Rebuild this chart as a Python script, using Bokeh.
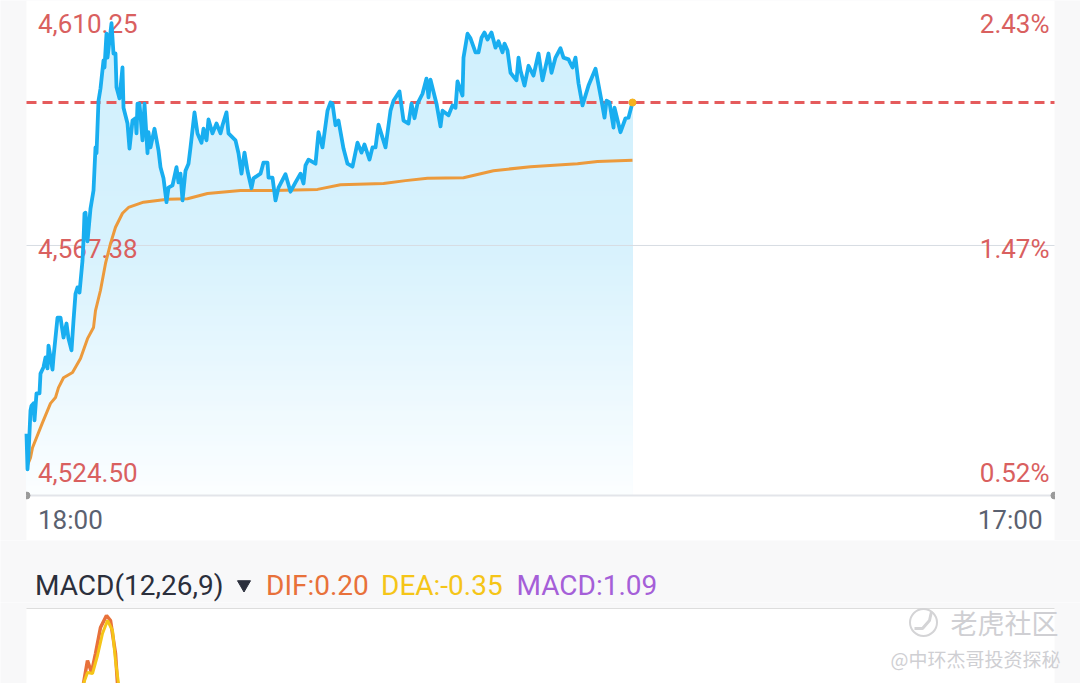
import numpy as np
from bokeh.core.properties import value
from bokeh.embed import file_html
from bokeh.layouts import column
from bokeh.models import Range1d
from bokeh.plotting import figure
from bokeh.resources import INLINE

# ---- data -----------------------------------------------------------------
slots = [0,1,2,4,5,7,8,10,13,14,17,19,21,22,24,26,27,31,34,37,40,42,45,47,49,51,53,56,57,58,59,61,64,67,69,70,72,74,77,78,80,81,85,87,89,90,93,96,97,101,103,106,109,110,111,113,116,118,121,122,124,128,132,134,137,140,142,146,150,152,154,156,159,162,164,168,171,175,177,180,182,186,190,194,196,200,202,209,212,215,218,221,225,227,234,237,241,242,246,249,252,259,264,269,274,277,279,282,289,292,296,301,304,306,309,312,317,321,326,331,335,338,343,346,349,352,359,364,367,373,377,382,385,388,391,396,400,402,404,410,414,416,422,426,429,431,436,437,441,444,449,452,455,458,461,465,469,472,476,478,481,484,490,492,494,498,502,507,512,516,522,525,529,534,537,542,546,549,552,556,562,569,575,578,580,583,587,588,594,599,602,606]
price = [4535.1,4529.0,4531.4,4539.1,4539.9,4540.3,4537.4,4542.0,4542.0,4545.4,4546.5,4548.2,4546.3,4550.2,4548.2,4546.1,4548.2,4555.0,4555.0,4551.6,4554.0,4551.4,4549.4,4554.5,4559.1,4560.2,4559.3,4564.8,4568.2,4572.9,4573.0,4568.1,4573.7,4576.8,4584.2,4583.2,4592.2,4594.3,4599.1,4597.9,4603.7,4599.6,4605.5,4600.3,4600.3,4594.5,4592.6,4597.9,4591.0,4588.3,4584.0,4588.8,4589.2,4586.6,4591.7,4591.7,4585.4,4591.7,4583.2,4586.8,4584.2,4587.4,4583.7,4580.8,4578.9,4574.8,4577.3,4577.7,4580.8,4578.2,4579.7,4575.1,4580.2,4581.4,4584.2,4590.2,4586.6,4585.0,4587.4,4585.4,4589.0,4586.6,4588.3,4586.6,4588.0,4590.2,4586.6,4585.4,4583.2,4579.7,4583.3,4580.2,4577.2,4578.9,4579.7,4581.6,4581.6,4579.0,4579.0,4575.1,4577.3,4579.6,4576.6,4578.2,4579.7,4578.0,4581.1,4582.1,4581.4,4586.8,4584.2,4590.5,4591.9,4591.7,4588.0,4588.8,4584.0,4581.4,4580.9,4585.0,4583.3,4584.7,4582.1,4584.2,4584.2,4588.1,4584.2,4590.5,4592.2,4593.8,4588.8,4588.3,4591.7,4589.2,4591.7,4593.4,4596.0,4592.8,4595.8,4591.7,4587.8,4590.5,4589.7,4591.4,4591.0,4595.5,4593.1,4599.6,4603.7,4602.9,4600.5,4600.5,4603.0,4603.9,4602.7,4603.9,4601.3,4602.4,4600.5,4602.0,4600.8,4597.0,4595.7,4599.6,4597.4,4594.8,4598.2,4596.5,4600.3,4595.7,4600.3,4597.0,4599.6,4601.2,4599.6,4599.3,4597.9,4599.6,4595.2,4591.4,4594.8,4597.7,4592.2,4589.3,4592.2,4591.9,4587.6,4591.0,4586.8,4589.2,4589.3,4591.9]

avg_slots = [1,4,6,16,24,29,32,37,46,54,61,67,69,74,79,84,89,96,102,117,141,161,181,214,247,291,314,357,379,401,437,467,504,551,571,606]
avg_price = [4529.7,4531.0,4532.7,4537.0,4540.3,4541.3,4543.0,4544.7,4545.6,4548.0,4551.4,4553.3,4556.2,4559.7,4564.3,4567.7,4570.5,4572.9,4573.9,4574.8,4575.3,4575.4,4576.3,4576.8,4576.8,4577.0,4577.8,4578.0,4578.5,4578.9,4579.0,4580.2,4580.9,4581.4,4581.8,4582.0]

last_price = 4591.9
mid_price = 4567.38
low_price = 4524.50
left_labels = ["4,610.25", "4,567.38", "4,524.50"]
right_labels = ["2.43%", "1.47%", "0.52%"]
time_labels = ["18:00", "17:00"]

dif_slots = [57,61,65,69,74,80,84,89,91]
dif_vals = [0.0,4.6,2.2,6.0,11.2,13.6,12.6,6.0,0.0]
dea_slots = [57,61,66,71,76,81,86,89,92]
dea_vals = [0.0,2.2,2.0,5.6,10.0,12.6,10.6,4.6,0.0]

RED = "#d9605f"
GREY_BG = "#f8f8f9"
FONT = value("Roboto")
CJK = value("Noto Sans CJK SC")
SLOT_MAX = 1028
PER_PX = 0.1715   # index points per pixel of the price scale
MACD_PER_PX = 0.2
X_RANGE = (-26, 1054)


def py(px):
    return low_price + (495 - px) * PER_PX


def my(px):
    return (683 - px) * MACD_PER_PX


def panel(height, y_range):
    f = figure(width=1080, height=height, output_backend="svg", toolbar_location=None,
               x_range=Range1d(*X_RANGE), y_range=Range1d(*y_range),
               x_axis_location=None, y_axis_location=None,
               min_border_left=0, min_border_right=0, min_border_top=0, min_border_bottom=0)
    f.grid.visible = False
    f.outline_line_color = None
    f.border_fill_color = GREY_BG
    f.background_fill_color = GREY_BG
    return f


# ---- price panel ----------------------------------------------------------
p = panel(540, (py(540), py(0)))
p.quad(left=[0], right=[SLOT_MAX], bottom=[py(540)], top=[py(0)], fill_color="white", line_color=None)

# area under the line with a vertical fade
xs = np.union1d(np.array(slots, float), np.arange(0, 606.5, 0.5))
ys = np.interp(xs, slots, price)
for px in range(20, 495, 5):
    hi = py(px)
    if px < 250:
        c0, c1, t = (207, 240, 253), (216, 242, 253), (px - 20) / 230
    else:
        c0, c1, t = (216, 242, 253), (252, 254, 255), (px - 250) / 245
    col = tuple(int(round(a + (b - a) * t)) for a, b in zip(c0, c1))
    p.varea(xs, y1=np.full_like(xs, low_price), y2=np.minimum(ys, hi),
            fill_color="#%02x%02x%02x" % col)

p.line([0, SLOT_MAX], [mid_price, mid_price], line_color="#d7dde3", line_width=1)
p.line([0, SLOT_MAX], [low_price, low_price], line_color="#e3e5ea", line_width=2)
p.wedge([0], [low_price], radius=3.5, radius_units="screen", start_angle=-np.pi / 2, end_angle=np.pi / 2,
        color="#9a9a9a")
p.wedge([SLOT_MAX], [low_price], radius=3.5, radius_units="screen", start_angle=np.pi / 2, end_angle=3 * np.pi / 2,
        color="#9a9a9a")
p.line([0, SLOT_MAX], [last_price, last_price], line_color="#e55b5c", line_width=3, line_dash="10 6")

lab_y = [py(23), py(248), py(472)]
p.text(x=[11.5] * 3, y=lab_y, text=left_labels, text_color=RED, text_font=FONT,
       text_font_size=value("26px"), text_align="left", text_baseline="middle")
p.text(x=[1023] * 3, y=lab_y, text=right_labels, text_color=RED, text_font=FONT,
       text_font_size=value("26px"), text_align="right", text_baseline="middle")
p.text(x=[11.5], y=[py(519)], text=[time_labels[0]], text_color="#5b6170", text_font=FONT,
       text_font_size=value("26px"), text_align="left", text_baseline="middle")
p.text(x=[1016], y=[py(519)], text=[time_labels[1]], text_color="#5b6170", text_font=FONT,
       text_font_size=value("26px"), text_align="right", text_baseline="middle")

p.line(avg_slots, avg_price, line_color="#ec9a3c", line_width=3)
p.line(slots, price, line_color="#19aef0", line_width=3.8, line_join="round")
p.scatter([slots[-1]], [price[-1]], size=7, color="#f5b21f")

# ---- indicator header -----------------------------------------------------
h = panel(62, (602, 540))


def header(x, text, color):
    h.text(x=[x], y=[585], text=[text], text_color=color, text_font=FONT,
           text_font_size=value("28px"), text_baseline="middle", text_align="left")


header(8.5, "MACD(12,26,9)", "#2b2f3c")
header(239.5, "DIF:0.20", "#e8713a")
header(354.5, "DEA:-0.35", "#f5c518")
header(490, "MACD:1.09", "#a55fd8")
h.scatter([217.5], [584], marker="inverted_triangle", size=13, color="#2b2f3c")

# ---- MACD panel -----------------------------------------------------------
q = panel(81, (my(683), my(602)))
q.quad(left=[0], right=[SLOT_MAX], bottom=[my(683)], top=[my(608)], fill_color="white", line_color=None)
q.line([0, SLOT_MAX], [my(608), my(608)], line_color="#dddddd", line_width=1)
q.line(dif_slots, dif_vals, line_color="#e8713a", line_width=3.5)
q.line(dea_slots, dea_vals, line_color="#f5c518", line_width=3)
q.scatter([897], [my(622)], size=27, fill_color=None, line_color="#d4d4d6", line_width=2)
q.line([888, 896, 903, 905], [my(628), my(628), my(620), my(611)], line_color="#d4d4d6", line_width=3)
q.text(x=[924], y=[my(622)], text=["老虎社区"], text_color="#cfcfd3", text_font=CJK,
       text_font_size=value("27px"), text_baseline="middle", text_align="left")
q.text(x=[864], y=[my(658)], text=["@中环杰哥投资探秘"], text_color="#cfcfd3", text_font=CJK,
       text_font_size=value("19px"), text_baseline="middle", text_align="left")

page = column(p, h, q, spacing=0)
open("out.html", "w").write(file_html(page, INLINE))
